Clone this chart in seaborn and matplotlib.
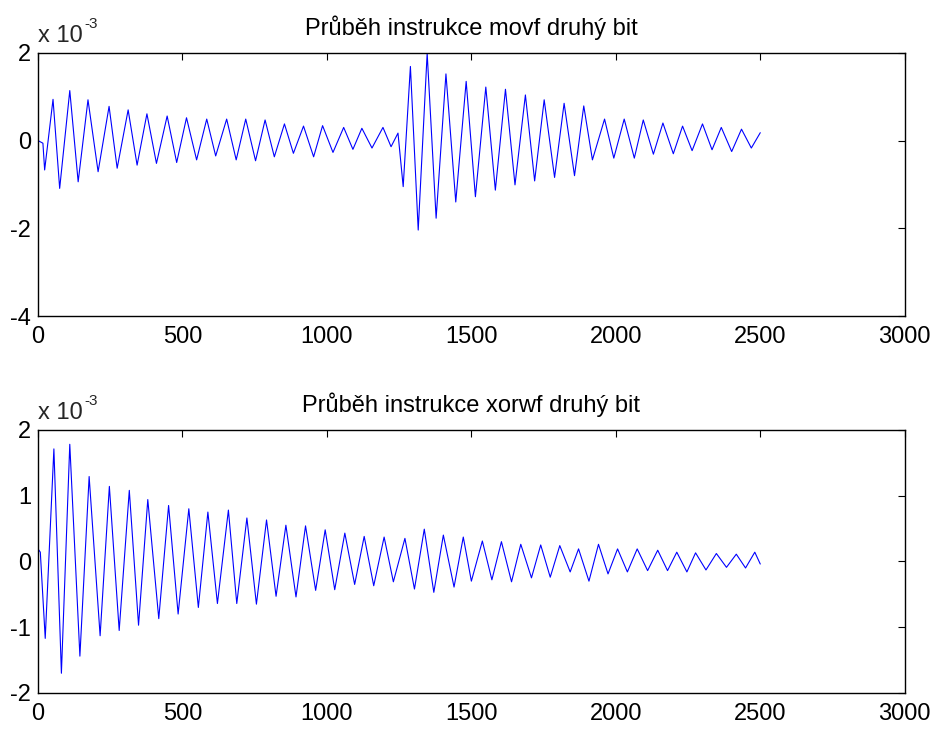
import matplotlib.pyplot as plt
import seaborn as sns
import pandas as pd
import numpy as np

sns.set_style("white")
plt.rcParams['font.family'] = ['Liberation Sans', 'DejaVu Sans']
plt.rcParams['axes.unicode_minus'] = False

# signal extrema (sample index, value in units of 1e-3)
movf_x = [0, 17, 23, 52, 75, 110, 139, 173, 208, 246, 274, 312, 343, 377, 410,
          447, 480, 514, 549, 584, 615, 653, 686, 719, 753, 786, 818, 853, 884,
          919, 954, 985, 1021, 1058, 1090, 1121, 1156, 1194, 1222, 1246, 1264,
          1289, 1316, 1347, 1378, 1412, 1446, 1482, 1514, 1550, 1583, 1618,
          1651, 1687, 1719, 1752, 1788, 1821, 1857, 1889, 1919, 1961, 1993,
          2029, 2064, 2095, 2130, 2163, 2199, 2231, 2264, 2300, 2333, 2365,
          2401, 2435, 2469, 2500]
movf_y = [0.0, -0.06, -0.67, 0.94, -1.09, 1.14, -0.94, 0.93, -0.71, 0.78, -0.63,
          0.70, -0.56, 0.61, -0.52, 0.56, -0.50, 0.52, -0.44, 0.49, -0.35, 0.49,
          -0.44, 0.49, -0.46, 0.47, -0.37, 0.38, -0.29, 0.33, -0.37, 0.34, -0.27,
          0.30, -0.20, 0.28, -0.17, 0.30, -0.14, 0.17, -1.05, 1.69, -2.04, 1.99,
          -1.77, 1.52, -1.40, 1.35, -1.28, 1.22, -1.13, 1.17, -1.01, 1.04, -0.92,
          0.93, -0.84, 0.85, -0.80, 0.79, -0.44, 0.49, -0.40, 0.49, -0.40, 0.47,
          -0.31, 0.40, -0.30, 0.33, -0.23, 0.38, -0.21, 0.30, -0.25, 0.26,
          -0.17, 0.18]

xorwf_x = [0, 8, 25, 55, 81, 110, 145, 177, 215, 247, 281, 316, 348, 380, 418,
           452, 485, 522, 555, 588, 621, 659, 688, 723, 756, 791, 824, 858, 893,
           926, 961, 994, 1027, 1062, 1096, 1129, 1162, 1198, 1230, 1270, 1303,
           1337, 1370, 1403, 1440, 1472, 1500, 1538, 1571, 1604, 1639, 1671,
           1708, 1740, 1773, 1806, 1842, 1871, 1907, 1940, 1973, 2006, 2040,
           2074, 2110, 2145, 2179, 2211, 2246, 2276, 2312, 2348, 2383, 2417,
           2449, 2481, 2500]
xorwf_y = [0.19, 0.14, -1.17, 1.71, -1.70, 1.78, -1.44, 1.29, -1.13, 1.14, -1.05,
           1.08, -0.97, 0.94, -0.87, 0.85, -0.80, 0.80, -0.70, 0.75, -0.64, 0.78,
           -0.64, 0.66, -0.65, 0.63, -0.53, 0.55, -0.54, 0.54, -0.44, 0.48, -0.43,
           0.43, -0.35, 0.38, -0.37, 0.37, -0.31, 0.35, -0.42, 0.49, -0.47, 0.40,
           -0.39, 0.37, -0.30, 0.31, -0.28, 0.30, -0.31, 0.26, -0.25, 0.25, -0.24,
           0.24, -0.16, 0.19, -0.30, 0.26, -0.19, 0.19, -0.16, 0.19, -0.14, 0.17,
           -0.14, 0.14, -0.16, 0.13, -0.13, 0.12, -0.09, 0.11, -0.10, 0.14, -0.04]

titles = ['Průběh instrukce movf druhý bit', 'Průběh instrukce xorwf druhý bit']
ylims = [(-4, 2), (-2, 2)]
yticks = [[-4, -2, 0, 2], [-2, -1, 0, 1, 2]]
xticks = [0, 500, 1000, 1500, 2000, 2500, 3000]

fig = plt.figure(figsize=(9.36, 7.29), dpi=100)
ax1 = fig.add_axes([0.0406, 0.5665, 0.926, 0.361])
ax2 = fig.add_axes([0.0406, 0.0494, 0.926, 0.361])

series = [(movf_x, movf_y), (xorwf_x, xorwf_y)]
for ax, (xs, ys), t, yl, yt in zip([ax1, ax2], series, titles, ylims, yticks):
    df = pd.DataFrame({'n': xs, 'v': ys})
    sns.lineplot(data=df, x='n', y='v', ax=ax, color='#0000ff',
                 linewidth=0.8, estimator=None, sort=False)
    ax.set_xlim(0, 3000)
    ax.set_ylim(*yl)
    ax.set_xticks(xticks)
    ax.set_yticks(yt)
    ax.set_xlabel('')
    ax.set_ylabel('')
    ax.tick_params(direction='in', length=5, width=0.8, top=True, right=True,
                   labelsize=17, colors='black')
    ax.tick_params(axis='x', pad=7)
    ax.tick_params(axis='y', pad=5)
    for s in ax.spines.values():
        s.set_linewidth(1.0)
        s.set_color('black')
    ax.set_title(t, fontsize=17, pad=13, color='black')
    # MATLAB-like exponent label
    ax.text(0.0, 1.042, 'x 10', transform=ax.transAxes, fontsize=17,
            ha='left', va='baseline')
    ax.text(0.053, 1.095, '-3', transform=ax.transAxes, fontsize=11,
            ha='left', va='baseline')

fig.savefig('out.png', dpi=100)
